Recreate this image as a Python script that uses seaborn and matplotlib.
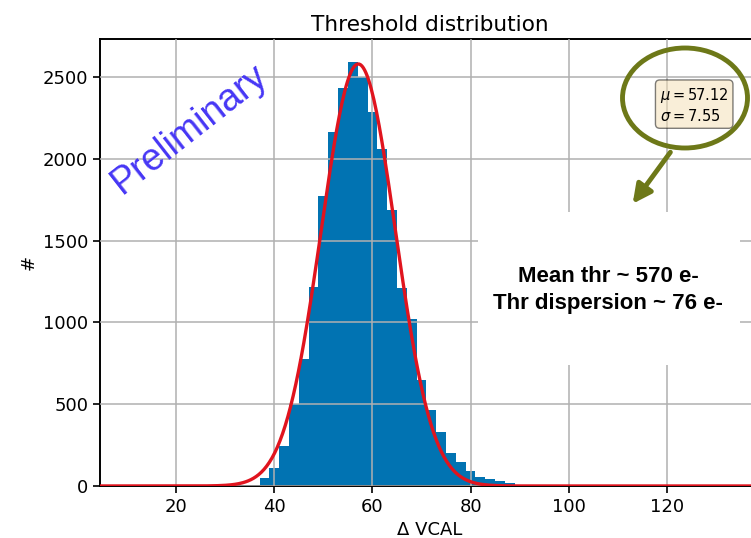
import numpy as np
import matplotlib
matplotlib.use("Agg")
import matplotlib.pyplot as plt
import seaborn as sns
from matplotlib.patches import Ellipse, Rectangle, FancyArrowPatch

# histogram bins (Delta VCAL), width 2
bin_edges = [37, 39, 41, 43, 45, 47, 49, 51, 53, 55, 57, 59, 61, 63, 65,
             67, 69, 71, 73, 75, 77, 79, 81, 83, 85, 87, 89]
bin_counts = [47, 108, 244, 500, 778, 1215, 1772, 2162, 2431, 2590, 2498, 2288, 2060,
              1687, 1208, 1019, 648, 464, 328, 200, 145, 90, 57, 44, 30, 18]

# gaussian fit
fit_mu = 57.12
fit_sigma = 7.55
fit_amp = 2580

x_min, x_max = 4.5, 139
y_max = 2730
xticks = [20, 40, 60, 80, 100, 120]
yticks = [0, 500, 1000, 1500, 2000, 2500]

sns.set_style("ticks")
plt.rcParams['font.family'] = ['DejaVu Sans']
plt.rcParams['text.color'] = 'black'
plt.rcParams['axes.labelcolor'] = 'black'

fig = plt.figure(figsize=(7.51, 5.38), dpi=100)
ax = fig.add_axes([0.1332, 0.0967, 0.879, 0.830])

centers = [(bin_edges[i] + bin_edges[i + 1]) / 2 for i in range(len(bin_counts))]
sns.histplot(x=centers, weights=bin_counts, bins=bin_edges, color="#0173B2",
             alpha=1, linewidth=0, ax=ax)

x_fit = np.linspace(x_min, x_max, 500)
y_fit = fit_amp * np.exp(-0.5 * ((x_fit - fit_mu) / fit_sigma) ** 2)
sns.lineplot(x=x_fit, y=y_fit, color="#e0141e", lw=2.4, ax=ax, zorder=3)

ax.set_xlim(x_min, x_max)
ax.set_ylim(0, y_max)
ax.set_xticks(xticks)
ax.set_yticks(yticks)
ax.set_axisbelow(False)
ax.grid(True, color="#b0b0b0", lw=1.1)
for s in ax.spines.values():
    s.set_color("black")
    s.set_linewidth(1.4)
ax.tick_params(labelsize=13, length=5, width=1.2, colors="black")
ax.set_title("Threshold distribution", fontsize=15.6, color="black")
ax.set_xlabel("Δ VCAL", fontsize=13)
ax.set_ylabel("#", fontsize=13)

# stats box
ax.text(0.848, 0.895, r"$\mu=57.12$" + "\n" + r"$\sigma=7.55$", transform=ax.transAxes,
        fontsize=10.5, va="top", ha="left",
        bbox=dict(boxstyle="round", facecolor="wheat", alpha=0.5, edgecolor="black"))

# overlays added on top of the plot
fig.text(0.252, 0.760, "Preliminary", rotation=38, color="#4636f5", fontsize=27,
         family="Liberation Sans", fontstretch="normal", ha="center", va="center")

fig.patches.append(Ellipse((685 / 751, 1 - 98 / 538), 125 / 751, 100 / 538,
                           transform=fig.transFigure, fill=False,
                           edgecolor="#6d7818", lw=3.5, zorder=10))
fig.patches.append(FancyArrowPatch((672 / 751, 1 - 150 / 538), (631 / 751, 1 - 206 / 538),
                                   transform=fig.transFigure, arrowstyle="-|>",
                                   mutation_scale=28, color="#6d7818", lw=3.5, zorder=10))

fig.patches.append(Rectangle((478 / 751, 1 - 365 / 538), 262 / 751, 153 / 538,
                             transform=fig.transFigure, facecolor="white",
                             edgecolor="none", zorder=5))
fig.text(0.810, 0.461, "Mean thr ~ 570 e-\nThr dispersion ~ 76 e-", fontsize=16,
         fontweight="bold", family="Liberation Sans", fontstretch="normal",
         ha="center", va="center", multialignment="center", linespacing=1.35,
         color="black", zorder=6)

fig.savefig("out.png", dpi=100)
